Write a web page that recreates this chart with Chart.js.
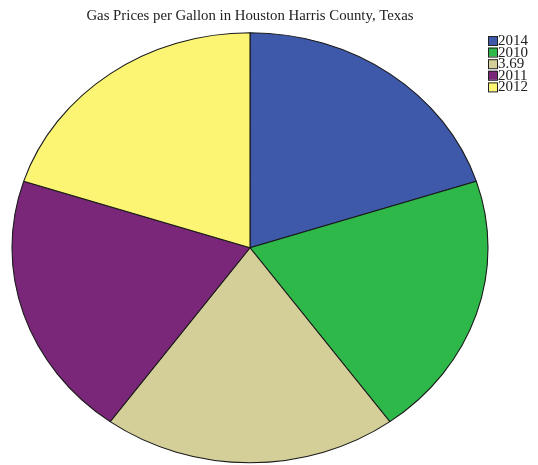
<!DOCTYPE html>
<html>
<head>
<meta charset="utf-8">
<script src="https://cdn.jsdelivr.net/npm/chart.js@4"></script>
<style>
    html, body { margin: 0; padding: 0; background: #fff; }
    #wrap { width: 538px; height: 465px; }
</style>
</head>
<body>
<div id="wrap"><canvas id="gasChart" width="538" height="465"></canvas></div>
<script>
// chart data
var titleText = 'Gas Prices per Gallon in Houston Harris County, Texas';
var labels = ['2014', '2010', '3.69', '2011', '2012'];
var counts = [1, 1, 1, 1, 1];
var sliceColors = ['#3e58aa', '#2eb84a', '#d4cf98', '#7b2779', '#fbf573'];

// the original pie is a bit wider than tall, so squash the slices into an ellipse
var ellipsePlugin = {
    id: 'ellipse',
    beforeDatasetsDraw: function (chart) {
        var a = chart.chartArea;
        var cx = (a.left + a.right) / 2;
        var cy = (a.top + a.bottom) / 2;
        chart.ctx.save();
        chart.ctx.translate(cx, cy);
        chart.ctx.scale(238 / 215, 1);
        chart.ctx.translate(-cx, -cy);
    },
    afterDatasetsDraw: function (chart) {
        chart.ctx.restore();
    }
};

// small boxed legend in the top right corner
var boxLegend = {
    id: 'boxLegend',
    afterDraw: function (chart) {
        var ctx = chart.ctx;
        var x = 488, y = 36, row = 11.6;
        ctx.save();
        ctx.font = '15px "Liberation Serif", "Times New Roman", serif';
        ctx.textBaseline = 'middle';
        ctx.textAlign = 'left';
        chart.data.labels.forEach(function (lbl, i) {
            var yy = y + i * row;
            ctx.fillStyle = sliceColors[i];
            ctx.fillRect(x, yy, 9, 9);
            ctx.strokeStyle = '#222';
            ctx.lineWidth = 1;
            ctx.strokeRect(x + 0.5, yy + 0.5, 9, 9);
            ctx.fillStyle = '#222';
            ctx.fillText(lbl, x + 10, yy + 5);
        });
        ctx.restore();
    }
};

var ctx = document.getElementById('gasChart').getContext('2d');
var gasChart = new Chart(ctx, {
    type: 'pie',
    data: {
        labels: labels,
        datasets: [{
            data: counts,
            backgroundColor: sliceColors,
            borderColor: '#1a1a1a',
            borderWidth: 1
        }]
    },
    options: {
        responsive: false,
        animation: false,
        radius: 215,
        layout: {
            padding: { left: 12, right: 50, top: 0, bottom: 2 }
        },
        plugins: {
            legend: { display: false },
            tooltip: { enabled: false },
            title: {
                display: true,
                text: titleText,
                color: '#222',
                font: { family: '"Liberation Serif", "Times New Roman", serif', size: 14.8, weight: 'normal', lineHeight: 1.05 },
                padding: { top: 8, bottom: 9 }
            }
        }
    },
    plugins: [ellipsePlugin, boxLegend]
});
</script>
</body>
</html>
